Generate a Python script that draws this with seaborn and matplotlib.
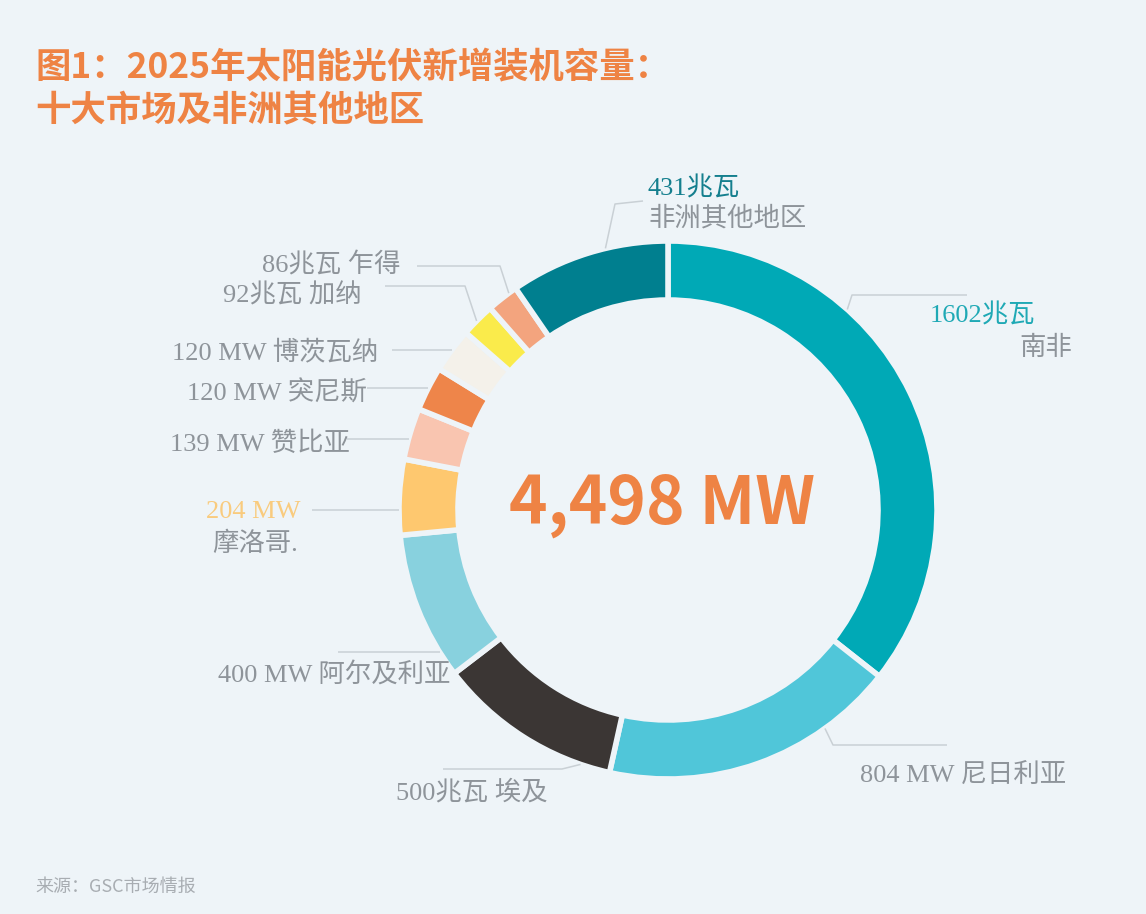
import numpy as np
import pandas as pd
import matplotlib.pyplot as plt
import seaborn as sns

# 2025年太阳能光伏新增装机容量 (MW), 顺时针从12点开始
markets = ['南非', '尼日利亚', '埃及', '阿尔及利亚', '摩洛哥.', '赞比亚',
           '突尼斯', '博茨瓦纳', '加纳', '乍得', '非洲其他地区']
capacity_mw = [1602, 804, 500, 400, 204, 139, 120, 120, 92, 86, 431]
value_labels = ['1602兆瓦', '804 MW', '500兆瓦', '400 MW', '204 MW', '139 MW',
                '120 MW', '120 MW', '92兆瓦', '86兆瓦', '431兆瓦']
colors = ['#00A9B6', '#50C6D9', '#3B3634', '#88D1DE', '#FEC86F', '#F9C5B0',
          '#EE854A', '#F4F1EA', '#FAEB4B', '#F3A47E', '#007F8F']

df = pd.DataFrame({'market': markets, 'mw': capacity_mw, 'label': value_labels, 'color': colors})
total = df['mw'].sum()

W, H = 1146, 914
BG = '#EEF4F8'
GRAY = '#8E949A'
LINE = '#C9D0D5'
ORANGE = '#EE8344'
CX, CY, R, RING = 668, 510, 269, 59   # 圆环位置 (像素)

sns.set_theme(style='white')
plt.rcParams['font.family'] = ['Noto Sans CJK SC', 'DejaVu Sans']
LABEL_FONT = ['Liberation Serif', 'Noto Sans CJK SC', 'DejaVu Sans']

fig = plt.figure(figsize=(W / 100, H / 100), dpi=100, facecolor=BG)
ax = fig.add_axes([0, 0, 1, 1])
ax.set_facecolor(BG)


def Y(p):
    return H - p


ax.pie(df['mw'], colors=df['color'], startangle=90, counterclock=False,
       center=(CX, Y(CY)), radius=R, frame=True,
       wedgeprops=dict(width=RING, edgecolor=BG, linewidth=4))
ax.set_xlim(0, W)
ax.set_ylim(0, H)
ax.set_aspect('equal')
ax.axis('off')

# 引线: 扇区内的位置比例, 之后的折点 (None = 水平)
leaders = {
    '南非': (0.326, [(852, 295), (967, 295)]),
    '尼日利亚': (0.25, [(833, 745), (947, 745)]),
    '埃及': (0.16, [(562, 769), (443, 769)]),
    '阿尔及利亚': (0.17, [(338, None)]),
    '摩洛哥.': (0.33, [(312, None)]),
    '赞比亚': (0.4, [(347, None)]),
    '突尼斯': (0.5, [(367, None)]),
    '博茨瓦纳': (0.5, [(392, None)]),
    '加纳': (0.46, [(465, 286), (385, 286)]),
    '乍得': (0.74, [(500, 266), (417, 266)]),
    '非洲其他地区': (0.61, [(615, 204), (643, 201)]),
}

cum = df['mw'].cumsum() - df['mw']
for i, row in df.iterrows():
    frac, pts = leaders[row['market']]
    theta = np.deg2rad(360 * (cum[i] + frac * row['mw']) / total)
    sx = CX + R * np.sin(theta)
    sy = CY - R * np.cos(theta)
    xs, ys = [sx], [sy]
    for px, pyy in pts:
        xs.append(px)
        ys.append(sy if pyy is None else pyy)
    ax.plot(xs, [Y(v) for v in ys], color=LINE, lw=1.1, solid_capstyle='butt', zorder=1)

# 标签文字 (位置 px)
lab = dict(family=LABEL_FONT, fontsize=19, va='center_baseline', fontweight='light')
two_line = {
    '南非': ((1035, 313, 'right', '#1FA9B5'), (1072, 345, 'right')),
    '摩洛哥.': ((300, 510, 'right', '#F9CB7E'), (298, 541, 'right')),
    '非洲其他地区': ((648, 186, 'left', '#157F8E'), (648, 216, 'left')),
}
one_line = {
    '尼日利亚': (860, 772, 'left'),
    '埃及': (396, 790, 'left'),
    '阿尔及利亚': (218, 672, 'left'),
    '赞比亚': (350, 441, 'right'),
    '突尼斯': (367, 391, 'right'),
    '博茨瓦纳': (378, 349, 'right'),
    '加纳': (362, 293, 'right'),
    '乍得': (400, 262, 'right'),
}
for _, row in df.iterrows():
    m = row['market']
    if m in two_line:
        (vx, vy, vha, vc), (nx, ny, nha) = two_line[m]
        ax.text(vx, Y(vy), row['label'], ha=vha, color=vc, **lab)
        ax.text(nx, Y(ny), m, ha=nha, color=GRAY, **lab)
    else:
        tx, ty, ha = one_line[m]
        ax.text(tx, Y(ty), f"{row['label']} {m}", ha=ha, color=GRAY, **lab)

# 中心总数
ax.text(662, Y(504), f'{total:,} MW', ha='center', va='center', fontsize=47,
        fontweight='bold', color=ORANGE)

# 标题与来源
ax.text(35, Y(68), '图1：2025年太阳能光伏新增装机容量：', ha='left', va='center',
        fontsize=25.5, fontweight='bold', color=ORANGE)
ax.text(35, Y(110), '十大市场及非洲其他地区', ha='left', va='center',
        fontsize=25.5, fontweight='bold', color=ORANGE)
ax.text(35, Y(887), '来源：GSC市场情报', ha='left', va='center',
        fontsize=13, color='#A8ADB2')

fig.savefig('out.png', dpi=100, facecolor=BG)
